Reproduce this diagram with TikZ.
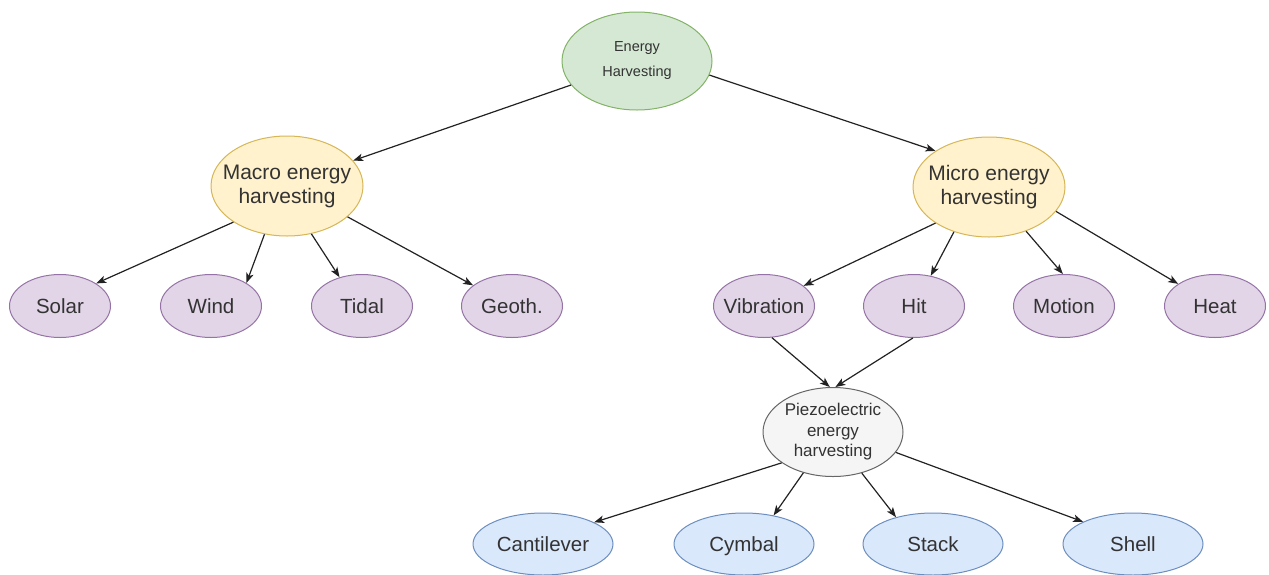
\documentclass[tikz,border=0pt]{standalone}
\usepackage{fontspec}
\setmainfont{Liberation Sans}
\usetikzlibrary{shapes.geometric,arrows.meta}
\definecolor{txt}{HTML}{333333}
\definecolor{gfill}{HTML}{D5E8D4}\definecolor{gline}{HTML}{82B366}
\definecolor{yfill}{HTML}{FFF2CC}\definecolor{yline}{HTML}{D6B656}
\definecolor{pfill}{HTML}{E1D5E7}\definecolor{pline}{HTML}{9673A6}
\definecolor{sfill}{HTML}{F5F5F5}\definecolor{sline}{HTML}{666666}
\definecolor{bfill}{HTML}{DAE8FC}\definecolor{bline}{HTML}{6C8EBF}
\definecolor{edgec}{HTML}{222222}
\tikzset{
  base/.style={ellipse, inner sep=-20pt, line width=1pt, align=center, text=txt},
  single/.style={text height=18.5pt, text depth=4pt},
  rootnode/.style={base, fill=gfill, draw=gline, minimum width=150pt, minimum height=98pt, font=\fontsize{14.5}{25}\selectfont},
  catnode/.style={base, fill=yfill, draw=yline, minimum width=152pt, minimum height=100pt, font=\fontsize{21}{24}\selectfont},
  leafnode/.style={base, single, fill=pfill, draw=pline, minimum width=101pt, minimum height=63pt, font=\fontsize{20.5}{24}\selectfont},
  piezonode/.style={base, fill=sfill, draw=sline, minimum width=140pt, minimum height=89pt, font=\fontsize{17}{20.5}\selectfont},
  typenode/.style={base, single, fill=bfill, draw=bline, minimum width=140pt, minimum height=62pt, font=\fontsize{20.5}{24}\selectfont},
  conn/.style={draw=edgec, line width=1.2pt, -{Stealth[length=10pt,width=7.5pt,inset=2.5pt]}}
}
\begin{document}
\begin{tikzpicture}[x=1pt,y=-1pt]
\useasboundingbox (0,0) rectangle (1269,574);
\node[rootnode] (eh) at (637,61) {Energy\\Harvesting};
\node[catnode] (macro) at (287,186) {Macro energy\\harvesting};
\node[catnode] (micro) at (989,187) {Micro energy\\harvesting};
\node[leafnode] (solar) at (60,306) {Solar};
\node[leafnode] (wind) at (211,306) {Wind};
\node[leafnode] (tidal) at (362,306) {Tidal};
\node[leafnode] (geoth) at (512,306) {Geoth.};
\node[leafnode] (vib) at (764,306) {Vibration};
\node[leafnode] (hit) at (914,306) {Hit};
\node[leafnode] (motion) at (1064,306) {Motion};
\node[leafnode] (heat) at (1215,306) {Heat};
\node[piezonode] (piezo) at (833,432) {Piezoelectric\\energy\\harvesting};
\node[typenode] (cant) at (543,544) {Cantilever};
\node[typenode] (cymb) at (744,544) {Cymbal};
\node[typenode] (stack) at (933,544) {Stack};
\node[typenode] (shell) at (1133,544) {Shell};
\draw[conn] (eh.200) -- (macro.21);
\draw[conn] (eh.349) -- (micro.146);
\draw[conn] (macro.214) -- (solar.32);
\draw[conn] (macro.245) -- (wind.33);
\draw[conn] (macro.297) -- (tidal.128);
\draw[conn] (macro.333) -- (geoth.152);
\draw[conn] (micro.214) -- (vib.27);
\draw[conn] (micro.232) -- (hit.61);
\draw[conn] (micro.310) -- (motion.92);
\draw[conn] (micro.340) -- (heat.149);
\draw[conn] (vib.284) -- (piezo.94);
\draw[conn] (hit.268) -- (piezo.87);
\draw[conn] (piezo.211) -- (cant.23);
\draw[conn] (piezo.234) -- (cymb.44);
\draw[conn] (piezo.305) -- (stack.144);
\draw[conn] (piezo.342) -- (shell.156);
\end{tikzpicture}
\end{document}
